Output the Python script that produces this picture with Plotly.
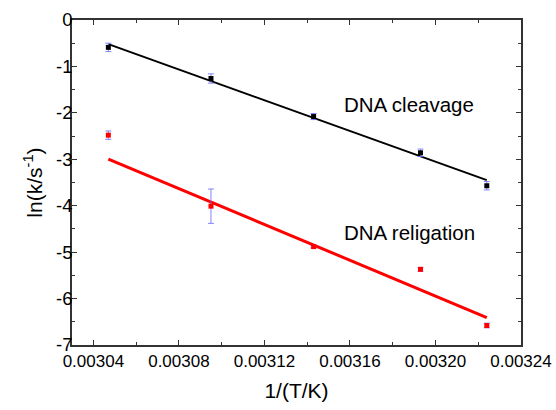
import plotly.graph_objects as go

# ---- data ----
inv_T = [0.003047, 0.003095, 0.003143, 0.003193, 0.003224]
cleavage_ln_k = [-0.59, -1.26, -2.08, -2.86, -3.57]
cleavage_err = [0.09, 0.10, 0.065, 0.08, 0.09]
religation_ln_k = [-2.48, -4.01, -4.88, -5.37, -6.58]
religation_err = [0.09, 0.37, 0.03, 0.04, 0.05]

fit_x = [0.003047, 0.003224]
cleavage_fit = [-0.52, -3.45]
religation_fit = [-2.995, -6.41]

y_tick_vals = [0, -1, -2, -3, -4, -5, -6, -7]
y_tick_text = ["0", "-1", "-2", "-3", "-4", "-5", "-6", "-7"]
x_tick_vals = [0.00304, 0.00308, 0.00312, 0.00316, 0.00320, 0.00324]
x_tick_text = ["0.00304", "0.00308", "0.00312", "0.00316", "0.00320", "0.00324"]

FONT = "Liberation Sans, Arial, sans-serif"
ERR_COLOR = "rgba(110,110,255,0.85)"

fig = go.Figure()

fig.add_trace(go.Scatter(x=fit_x, y=cleavage_fit, mode="lines",
                         line=dict(color="black", width=2), showlegend=False))
fig.add_trace(go.Scatter(x=fit_x, y=religation_fit, mode="lines",
                         line=dict(color="#ff0000", width=3), showlegend=False))

fig.add_trace(go.Scatter(
    x=inv_T, y=cleavage_ln_k, mode="markers",
    marker=dict(symbol="square", size=5, color="black"),
    error_y=dict(type="data", array=cleavage_err, color=ERR_COLOR, thickness=1, width=3),
    showlegend=False))
fig.add_trace(go.Scatter(
    x=inv_T, y=religation_ln_k, mode="markers",
    marker=dict(symbol="square", size=5, color="#ff0000"),
    error_y=dict(type="data", array=religation_err, color=ERR_COLOR, thickness=1, width=3),
    showlegend=False))

fig.add_annotation(x=0.0031877, y=-1.83, xref="x", yref="y", text="DNA cleavage",
                   showarrow=False, font=dict(family=FONT, size=20.5, color="black"))
fig.add_annotation(x=0.0031877, y=-4.57, xref="x", yref="y", text="DNA religation",
                   showarrow=False, font=dict(family=FONT, size=20.5, color="black"))

axis_common = dict(
    showline=True, linecolor="#333333", linewidth=1.5, mirror="ticks",
    ticks="inside", ticklen=5, tickwidth=1.2, tickcolor="#333333",
    showgrid=False, zeroline=False, automargin=False,
)

fig.update_xaxes(
    range=[0.00303, 0.00324],
    tickvals=x_tick_vals, ticktext=x_tick_text,
    tickfont=dict(family=FONT, size=17, color="black"),
    minor=dict(ticks="inside", ticklen=3, tickwidth=1.2, tickcolor="#333333", dtick=0.00002, tick0=0.00304),
    title=dict(text="1/(T/K)", font=dict(family=FONT, size=21, color="black"), standoff=13),
    **axis_common)
fig.update_yaxes(
    range=[-7, 0],
    tickvals=y_tick_vals, ticktext=y_tick_text,
    tickfont=dict(family=FONT, size=18.5, color="black"),
    ticklabelstandoff=-6,
    minor=dict(ticks="inside", ticklen=3, tickwidth=1.2, tickcolor="#333333", dtick=0.5, tick0=0),
    title=dict(text="ln(k/s<sup>-1</sup>)", font=dict(family=FONT, size=21, color="black"), standoff=8),
    **axis_common)

fig.update_layout(
    width=556, height=410,
    margin=dict(l=72, r=35, t=20, b=65),
    plot_bgcolor="white", paper_bgcolor="white",
    font=dict(family=FONT),
)

fig.write_html("out.html", config={"displayModeBar": False},
               post_script="document.body.style.margin='0';document.body.style.padding='0';")
